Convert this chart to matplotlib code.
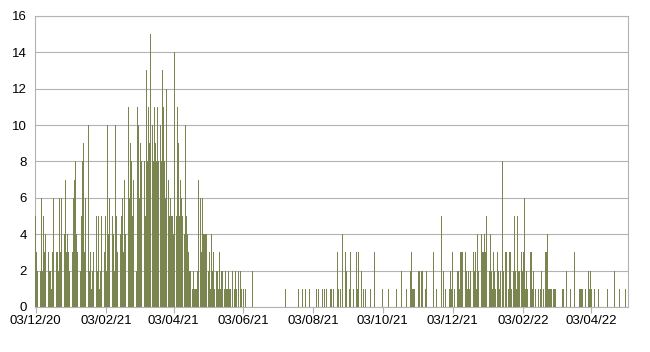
import numpy as np
import pandas as pd
import matplotlib
matplotlib.use("Agg")
import matplotlib.pyplot as plt
import matplotlib.dates as mdates

# daily counts, one list per month (first list starts on 03/12/2020)
dec20 = [5,3,2,3,2,6,2,5,3,4,2,3,2,2,1,3,6,2,3,3,2,6,3,6,3,4,7,3,4]
jan21 = [3,2,8,3,6,7,8,4,3,8,2,5,8,9,3,6,2,10,2,3,1,2,3,2,5,2,5,1,2,5,6]
feb21 = [3,5,2,10,4,6,3,5,4,2,10,5,3,6,4,5,6,3,7,4,6,11,6,9,8,5,7,6]
mar21 = [2,11,10,6,9,8,11,8,5,13,8,11,9,15,10,8,11,9,8,11,8,10,8,13,11,8,6,12,7,5,6]
apr21 = [5,5,4,14,5,11,9,5,7,6,5,4,10,5,4,3,2,2,1,2,1,1,1,2,7,6,3,6,4,4]
may21 = [4,4,2,3,1,4,2,3,1,2,2,1,3,1,2,2,1,2,1,1,2,1,1,2,0,1,2,1,0,2,2]
jun21 = [1,0,1,0,1,0,0,0,0,0,2,0,0,0,0,0,0,0,0,0,0,0,0,0,0,0,0,0,0,0]
jul21 = [0,0,0,0,0,0,0,0,0,1,0,0,0,0,0,0,0,0,0,0,1,0,0,0,1,0,1,0,0,0,1]
aug21 = [0,1,0,0,0,1,0,1,0,0,1,0,1,0,1,0,0,1,1,0,1,0,0,3,1,0,1,0,4,0,3]
sep21 = [2,0,0,1,3,0,1,0,0,3,1,3,0,2,0,1,0,1,0,0,0,1,0,0,0,3,0,0,0,0]
oct21 = [0,0,1,1,0,0,0,1,0,0,0,0,0,0,1,0,0,1,2,0,0,0,0,1,1,0,2,3,1,1,1]
nov21 = [0,0,2,2,0,2,2,0,1,2,0,0,0,0,0,3,0,0,1,0,0,0,5,0,2,0,1,0,2,1]
dec21 = [2,1,3,0,1,4,2,2,1,3,3,3,2,3,2,1,2,1,2,3,3,2,3,1,4,2,6,4,3,3,4]
jan22 = [3,5,4,2,4,2,1,3,2,1,3,2,1,2,0,8,2,3,3,0,1,3,3,1,2,5,2,1,5,2,2]
feb22 = [3,2,3,6,1,2,1,0,3,3,1,2,0,1,0,1,0,1,2,0,1,3,3,4,1,1,1,1]
mar22 = [1,1,1,0,0,0,0,0,1,1,0,0,2,0,0,1,0,0,0,3,0,0,0,1,1,1,1,0,1,0,0]
apr22 = [2,1,2,1,0,1,0,0,0,1,0,0,0,0,0,0,0,1,0,0,0,0,0,2,0,0,0,1,0,0]
may22 = [0,0,1,0,0]

months = [dec20, jan21, feb21, mar21, apr21, may21, jun21, jul21, aug21,
          sep21, oct21, nov21, dec21, jan22, feb22, mar22, apr22, may22]
starts = ["2020-12-03", "2021-01-01", "2021-02-01", "2021-03-01", "2021-04-01",
          "2021-05-01", "2021-06-01", "2021-07-01", "2021-08-01", "2021-09-01",
          "2021-10-01", "2021-11-01", "2021-12-01", "2022-01-01", "2022-02-01",
          "2022-03-01", "2022-04-01", "2022-05-01"]

dates = []
counts = []
for s, vals in zip(starts, months):
    dates.extend(pd.date_range(s, periods=len(vals), freq="D"))
    counts.extend(vals)
dates = pd.DatetimeIndex(dates)

plt.rcParams['font.family'] = ['Liberation Sans', 'DejaVu Sans']

fig = plt.figure(figsize=(6.5, 3.52), dpi=100)
ax = fig.add_axes([0.054, 0.128, 0.912, 0.827])

ax.bar(dates, counts, width=0.8, color='#7a8550', edgecolor='none', zorder=3)

ax.set_ylim(0, 16)
ax.set_yticks(np.arange(0, 17, 2))
ax.set_xlim(dates[0] - pd.Timedelta(hours=10), dates[-1] + pd.Timedelta(hours=12))

ax.xaxis.set_major_locator(mdates.MonthLocator(bymonth=[12, 2, 4, 6, 8, 10], bymonthday=3))
ax.xaxis.set_major_formatter(mdates.DateFormatter('%d/%m/%y'))

ax.grid(axis='y', color='#b3b3b3', linewidth=0.8, zorder=0)
for sp in ax.spines.values():
    sp.set_color('#b3b3b3')
    sp.set_linewidth(0.8)

ax.tick_params(axis='x', length=4, color='#b3b3b3', labelsize=9.5, pad=2)
ax.tick_params(axis='y', length=0, labelsize=9.5, pad=6)

fig.savefig('out.png', dpi=100)
